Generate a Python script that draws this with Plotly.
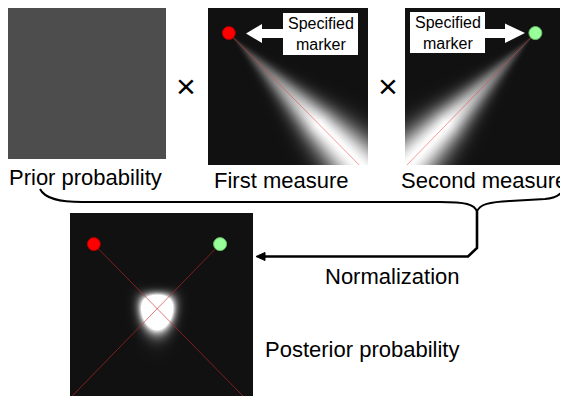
import numpy as np
import plotly.graph_objects as go

W, H = 568, 400
OFF = 8  # page body margin of the html output

# ---------------- data ----------------
panel_labels = ["Prior probability", "First measure", "Second measure"]
posterior_label = "Posterior probability"
normalization_label = "Normalization"
callout_text = "Specified<br>marker"
times_symbol = "×"
marker_u = [0.13, 0.82]        # marker position, fraction of panel width
marker_v = [0.17, 0.17]        # marker position, fraction of panel height
beam_end_u = [0.945, 0.012]    # point each measurement beam aims at
beam_end_v = [1.0, 1.0]
beam_sigma = [0.10, 0.10]      # angular spread of each measure (rad)
beam_ramp = 0.8                # distance over which the beam brightens
prior_level = 0.25             # uniform prior
posterior_gain = 5.0
marker_colors = ["#ff0000", "#99ff99"]
marker_edges = ["#aa0000", "#66bb66"]

# ---------------- layout geometry ----------------
P_PRIOR = (7, 6, 166, 159)
P_M1 = (208, 6, 368, 165)
P_M2 = (405, 6, 564, 165)
P_POST = (70, 213, 253, 396)

FONT = "Liberation Sans, Arial, sans-serif"
CS = [[0, "#111111"], [1, "#ffffff"]]


def grid(p):
    x0, y0, x1, y1 = p
    nx, ny = x1 - x0, y1 - y0
    u = (np.arange(nx) + 0.5) / nx
    v = (np.arange(ny) + 0.5) / ny
    return np.meshgrid(u, v)


def likelihood(U, V, k):
    mu, mv = marker_u[k], marker_v[k]
    du, dv = U - mu, V - mv
    d = np.hypot(du, dv)
    ang = np.arctan2(dv, du)
    tgt = np.arctan2(beam_end_v[k] - mv, beam_end_u[k] - mu)
    dth = np.angle(np.exp(1j * (ang - tgt)))
    return np.exp(-dth ** 2 / (2 * beam_sigma[k] ** 2)) * np.clip(d / beam_ramp, 0, 1)


def heat(p, Z):
    return go.Heatmap(z=Z, x0=p[0] + 0.5, dx=1, y0=p[1] + 0.5, dy=1,
                      colorscale=CS, zmin=0, zmax=1, showscale=False,
                      hoverinfo="skip", zsmooth=False)


def to_px(p, u, v):
    x0, y0, x1, y1 = p
    return x0 + u * (x1 - x0), y0 + v * (y1 - y0)


fig = go.Figure()

# prior
U, V = grid(P_PRIOR)
fig.add_trace(heat(P_PRIOR, np.full(U.shape, prior_level)))

# measures
for k, p in enumerate([P_M1, P_M2]):
    U, V = grid(p)
    fig.add_trace(heat(p, likelihood(U, V, k)))

# posterior
U, V = grid(P_POST)
post = prior_level * likelihood(U, V, 0) * likelihood(U, V, 1)
post = post / post.max()
fig.add_trace(heat(P_POST, np.clip(post * posterior_gain, 0, 1)))

# red rays + markers
line_col = "rgba(235,70,70,0.55)"
for k, p in enumerate([P_M1, P_M2]):
    xa, ya = to_px(p, marker_u[k], marker_v[k])
    xb, yb = to_px(p, beam_end_u[k], beam_end_v[k])
    fig.add_trace(go.Scatter(x=[xa, xb], y=[ya, yb], mode="lines",
                             line=dict(color=line_col, width=1), hoverinfo="skip"))
for k in range(2):
    xa, ya = to_px(P_POST, marker_u[k], marker_v[k])
    xb, yb = to_px(P_POST, beam_end_u[k], beam_end_v[k])
    fig.add_trace(go.Scatter(x=[xa, xb], y=[ya, yb], mode="lines",
                             line=dict(color="rgba(200,40,40,0.6)", width=1), hoverinfo="skip"))
for k, p in enumerate([P_M1, P_M2]):
    xa, ya = to_px(p, marker_u[k], marker_v[k])
    fig.add_trace(go.Scatter(x=[xa], y=[ya], mode="markers",
                             marker=dict(size=13, color=marker_colors[k],
                                         line=dict(color=marker_edges[k], width=1)),
                             hoverinfo="skip"))
for k in range(2):
    xa, ya = to_px(P_POST, marker_u[k], marker_v[k])
    fig.add_trace(go.Scatter(x=[xa], y=[ya], mode="markers",
                             marker=dict(size=13, color=marker_colors[k],
                                         line=dict(color=marker_edges[k], width=1)),
                             hoverinfo="skip"))

shapes = []
# callout boxes and arrows
shapes.append(dict(type="rect", x0=283, y0=13, x1=358, y1=55, fillcolor="white",
                   line=dict(width=0), layer="above"))
shapes.append(dict(type="path", path="M 246 33.5 L 262 24 L 262 29 L 283.5 29 L 283.5 38 L 262 38 L 262 43 Z",
                   fillcolor="white", line=dict(width=0), layer="above"))
shapes.append(dict(type="rect", x0=410, y0=12, x1=485, y1=53, fillcolor="white",
                   line=dict(width=0), layer="above"))
shapes.append(dict(type="path", path="M 525 33 L 505 23.5 L 505 29 L 484.5 29 L 484.5 38 L 505 38 L 505 43 Z",
                   fillcolor="white", line=dict(width=0), layer="above"))
# brace
shapes.append(dict(type="path",
                   path="M 40 189 C 45 199, 60 202, 82 202 L 440 202 C 465 202, 475 204, 477 212 "
                        "C 479 204, 490 202, 510 201 L 545 199 C 557 198, 563 193, 565 186",
                   line=dict(color="black", width=2)))
# normalization arrow
shapes.append(dict(type="path", path="M 477 212 L 477 248 L 468 256.5 L 263 256.5",
                   line=dict(color="black", width=2.6)))
shapes.append(dict(type="path", path="M 256 256.5 L 265 252.5 L 265 260.5 Z",
                   fillcolor="black", line=dict(color="black", width=1)))

ann = []
def txt(x, y, s, size=22, xanchor="center"):
    ann.append(dict(x=x, y=y, text=s, showarrow=False, xanchor=xanchor, yanchor="middle",
                    font=dict(family=FONT, size=size, color="black")))

txt(85.5, 177, panel_labels[0])
txt(280.5, 180, panel_labels[1])
txt(483.5, 180, panel_labels[2])
txt(186, 86, times_symbol, size=34)
txt(388, 86, times_symbol, size=34)
txt(392, 276, normalization_label)
txt(263, 349, posterior_label, xanchor="left")
txt(320.5, 34, callout_text, size=16)
txt(447.5, 33, callout_text, size=16)

fig.update_layout(
    width=W, height=H, margin=dict(l=0, r=0, t=0, b=0),
    paper_bgcolor="white", plot_bgcolor="white", showlegend=False,
    xaxis=dict(range=[OFF, W + OFF], visible=False, fixedrange=True),
    yaxis=dict(range=[H + OFF, OFF], visible=False, fixedrange=True),
    shapes=shapes, annotations=ann,
)
fig.write_html("out.html", config={"displayModeBar": False})
